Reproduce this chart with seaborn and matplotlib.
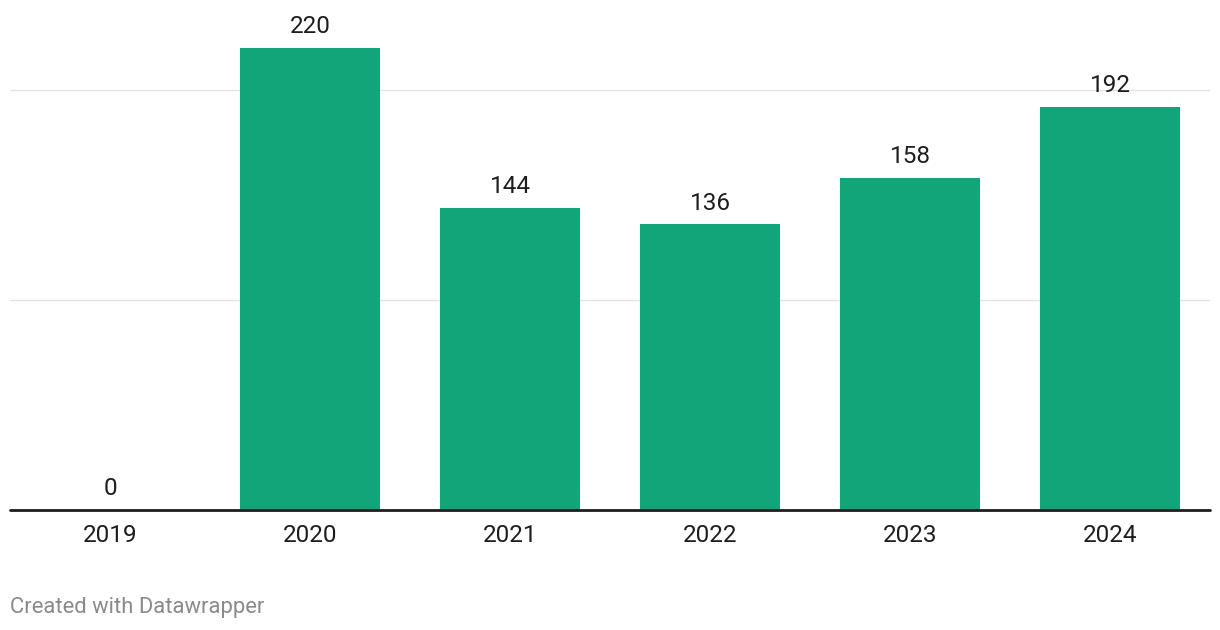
import matplotlib
matplotlib.use("Agg")
import matplotlib.pyplot as plt
import seaborn as sns
import pandas as pd

years = ["2019", "2020", "2021", "2022", "2023", "2024"]
values = [0, 220, 144, 136, 158, 192]
gridlines = [100, 200]

sns.set_theme(style="white")
plt.rcParams["font.family"] = ["Roboto", "DejaVu Sans"]

df = pd.DataFrame({"year": years, "value": values})

fig = plt.figure(figsize=(12.2, 6.3), dpi=100)
ax = fig.add_axes([10 / 1220, 120 / 630, 1200 / 1220, 510 / 630])

sns.barplot(data=df, x="year", y="value", order=years, color="#13a57a",
            saturation=1, width=0.7, linewidth=0, edgecolor="none", ax=ax)

ax.set_xlim(-0.5, len(years) - 0.5)
ax.set_ylim(0, 510 / 2.1)

for g in gridlines:
    ax.axhline(g, color="#e3e3e3", lw=1, zorder=0)
ax.axhline(0, color="#1d1d1d", lw=2, zorder=5, clip_on=False)

for c in ax.containers:
    ax.bar_label(c, labels=[str(v) for v in values], padding=7,
                 fontsize=17.5, color="#1d1d1d")

for s in ax.spines.values():
    s.set_visible(False)
ax.set_yticks([])
ax.set_xlabel("")
ax.set_ylabel("")
ax.tick_params(axis="x", length=0, pad=10, labelsize=17.5, labelcolor="#1d1d1d")

fig.text(10 / 1220, 1 - 608 / 630, "Created with Datawrapper", fontsize=15.8,
         color="#8a8a8a", va="center", ha="left")

fig.savefig("out.png", dpi=100, facecolor="white")
